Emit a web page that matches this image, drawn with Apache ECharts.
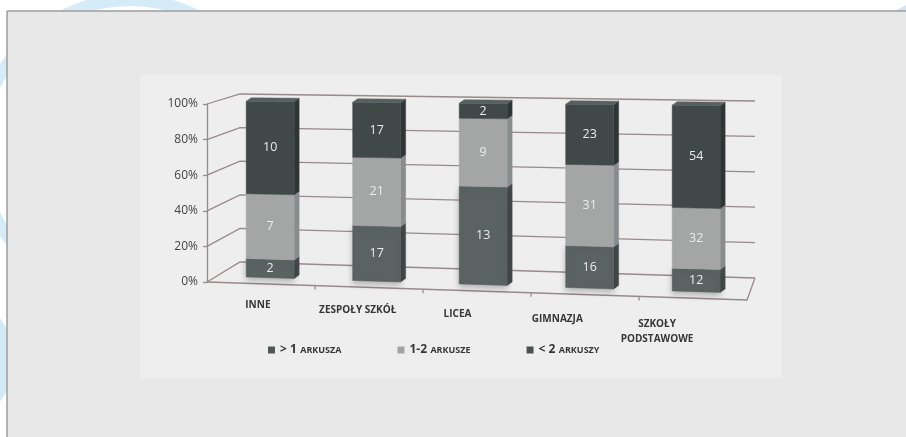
<!DOCTYPE html>
<html>
<head>
<meta charset="utf-8">
<script src="https://cdn.jsdelivr.net/npm/echarts@6/dist/echarts.min.js"></script>
<style>
  html, body { margin: 0; padding: 0; background: #ffffff; }
  #chart { width: 906px; height: 437px; }
</style>
</head>
<body>
<div id="chart"></div>
<script>
// Categories and counts per group (stacked bottom to top)
const categories = ['INNE', 'ZESPOŁY SZKÓŁ', 'LICEA', 'GIMNAZJA', 'SZKOŁY\nPODSTAWOWE'];
const seriesNames = ['> 1 ARKUSZA', '1-2 ARKUSZE', '< 2 ARKUSZY'];
const moreThanOne = [2, 17, 13, 16, 12];
const oneToTwo = [7, 21, 9, 31, 32];
const lessThanTwo = [10, 17, 2, 23, 54];
const yTicks = [0, 20, 40, 60, 80, 100];
const yTickLabels = ['0%', '20%', '40%', '60%', '80%', '100%'];

const counts = [moreThanOne, oneToTwo, lessThanTwo];
const totals = categories.map((_, i) => counts.reduce((s, arr) => s + arr[i], 0));

// Face shades for each stack level: front, side, top
const shades = [
  { front: '#5b6262', side: '#454b4b', top: '#687070', legend: '#4f5656' },
  { front: '#a4a6a6', side: '#898c8c', top: '#b2b4b4', legend: '#a2a4a4' },
  { front: '#414848', side: '#2f3535', top: '#576060', legend: '#4a5151' }
];
const frameColor = '#98898a';
const fontFamily = "'Open Sans', 'DejaVu Sans', sans-serif";

// Perspective mapping: t = position across the plot (0..1),
// f = value fraction (0..1), d = depth (0 = front edge, 1 = back wall)
function project(cs, t, f, d) {
  const bottom = cs.y + cs.height;
  const yF0 = bottom + 18 * t, yF1 = cs.y + 4 * t;
  const xF = cs.x + cs.width * t;
  const yF = yF0 - f * (yF0 - yF1);
  const xB = cs.x + 33 + (cs.width - 25) * t;
  const yB0 = bottom - 20 + 16 * t, yB1 = cs.y - 10 + 7 * t;
  const yB = yB0 - f * (yB0 - yB1);
  return [xF + (xB - xF) * d, yF + (yB - yF) * d];
}
function toTF(cs, p) {
  return [(p[0] - cs.x) / cs.width, (cs.y + cs.height - p[1]) / cs.height];
}
function shift(p, o) { return [p[0] + o[0], p[1] + o[1]]; }

// Build stacked [index, start, end, count] rows in percent
function stackRows(level) {
  return categories.map((_, i) => {
    let start = 0;
    for (let k = 0; k < level; k++) start += counts[k][i] / totals[i] * 100;
    const end = start + counts[level][i] / totals[i] * 100;
    return [i, start, end, counts[level][i]];
  });
}

function makeSegmentRenderer(level) {
  const sh = shades[level];
  const isTop = level === counts.length - 1;
  return function (params, api) {
    const cs = params.coordSys;
    const i = api.value(0);
    const pa = api.coord([i, api.value(1)]);
    const pb = api.coord([i, api.value(2)]);
    const [t, f0] = toTF(cs, pa);
    const f1 = toTF(cs, pb)[1];
    const h = api.size([1, 0])[0] * 0.225 / cs.width;
    const d = 0.3;
    const bl = project(cs, t - h, f0, d), br = project(cs, t + h, f0, d);
    const tr = project(cs, t + h, f1, d), tl = project(cs, t - h, f1, d);
    const off = [5, -3.5];
    const children = [];
    children.push({
      type: 'polygon',
      shape: { points: [br, shift(br, off), shift(tr, off), tr] },
      style: { fill: sh.side, stroke: sh.side, lineWidth: 0.5 }
    });
    const front = {
      type: 'polygon',
      shape: { points: [bl, br, tr, tl] },
      style: { fill: sh.front, stroke: sh.front, lineWidth: 0.5 }
    };
    if (level === 0) {
      front.style.shadowBlur = 6;
      front.style.shadowColor = 'rgba(0,0,0,0.25)';
      front.style.shadowOffsetY = 3;
    }
    children.push(front);
    if (isTop) {
      children.push({
        type: 'polygon',
        shape: { points: [tl, tr, shift(tr, off), shift(tl, off)] },
        style: { fill: sh.top, stroke: sh.top, lineWidth: 0.5 }
      });
    }
    children.push({
      type: 'text',
      style: {
        text: String(api.value(3)),
        x: (bl[0] + br[0] + tr[0] + tl[0]) / 4,
        y: (bl[1] + br[1] + tr[1] + tl[1]) / 4,
        align: 'center', verticalAlign: 'middle',
        fill: '#ececec', fontSize: 12.5, fontFamily: fontFamily
      }
    });
    return { type: 'group', children: children };
  };
}

// Back wall, side-wall gridlines and floor outline
function renderFrame(params, api) {
  const cs = params.coordSys;
  const children = [];
  const line = (pts) => children.push({
    type: 'polyline', shape: { points: pts },
    style: { stroke: frameColor, lineWidth: 1.3, fill: null }
  });
  yTicks.forEach(v => {
    const f = toTF(cs, api.coord([0, v]))[1];
    line([project(cs, 0, f, 0), project(cs, 0, f, 1), project(cs, 1, f, 1)]);
  });
  line([project(cs, 0, 0, 0), project(cs, 1, 0, 0), project(cs, 1, 0, 1)]);
  for (let k = 1; k < categories.length; k++) {
    const p = project(cs, k / categories.length, 0, 0);
    line([p, [p[0], p[1] + 4]]);
  }
  return { type: 'group', children: children };
}

function renderCategoryLabel(params, api) {
  const cs = params.coordSys;
  const i = api.value(0);
  const p = api.coord([i, 0]);
  const t = (p[0] - cs.x) / cs.width;
  return {
    type: 'text',
    style: {
      text: categories[i],
      x: cs.x + 1 + (p[0] - cs.x) * 0.924,
      y: cs.y + cs.height + 13 + 24 * t,
      align: 'center', verticalAlign: 'top', lineHeight: 15,
      fill: '#363636', fontSize: 10, fontWeight: 'bold', fontFamily: fontFamily
    }
  };
}

const chart = echarts.init(document.getElementById('chart'), null, { renderer: 'canvas' });

const option = {
  backgroundColor: '#ffffff',
  animation: false,
  graphic: {
    elements: [
      { type: 'circle', z: -20, silent: true, shape: { cx: 130, cy: 150, r: 150 },
        style: { fill: null, stroke: '#d5ebf7', lineWidth: 12 } },
      { type: 'circle', z: -20, silent: true, shape: { cx: 960, cy: 130, r: 128 },
        style: { fill: null, stroke: '#cfe6f4', lineWidth: 16 } },
      { type: 'circle', z: -20, silent: true, shape: { cx: -55, cy: 360, r: 62 },
        style: { fill: null, stroke: '#d3eaf7', lineWidth: 14 } },
      { type: 'rect', z: -15, silent: true, shape: { x: 7, y: 11, width: 899, height: 426 },
        style: { fill: '#e8e8e8' } },
      { type: 'line', z: -14, silent: true, shape: { x1: 7, y1: 11, x2: 906, y2: 11 },
        style: { stroke: '#9c9c9c', lineWidth: 1.5 } },
      { type: 'line', z: -14, silent: true, shape: { x1: 7, y1: 11, x2: 7, y2: 437 },
        style: { stroke: '#9c9c9c', lineWidth: 1.5 } },
      { type: 'rect', z: -13, silent: true, shape: { x: 140, y: 75, width: 642, height: 303 },
        style: { fill: '#eeeeee' } }
    ]
  },
  legend: {
    data: seriesNames,
    left: 263,
    top: 339,
    itemWidth: 7,
    itemHeight: 7,
    itemGap: 56,
    icon: 'rect',
    formatter: name => name.replace(/^(.*?)\s(ARKUSZ\S*)$/, '{b|$1} {s|$2}'),
    textStyle: {
      color: '#3a3a3a',
      rich: {
        b: { fontSize: 12, fontWeight: 'bold', fontFamily: fontFamily, color: '#363636' },
        s: { fontSize: 9, fontWeight: 'bold', fontFamily: fontFamily, color: '#363636' }
      }
    }
  },
  grid: { left: 207, right: 159, top: 104, bottom: 155 },
  xAxis: { type: 'category', data: categories, show: false },
  yAxis: {
    type: 'value', min: 0, max: 100, interval: 20,
    axisLine: { show: true, lineStyle: { color: frameColor, width: 1.3 } },
    axisTick: { show: true, length: 4, lineStyle: { color: frameColor, width: 1.3 } },
    splitLine: { show: false },
    axisLabel: {
      margin: 9,
      formatter: v => yTickLabels[yTicks.indexOf(v)],
      color: '#444444', fontSize: 12, fontFamily: fontFamily
    }
  },
  series: [
    {
      type: 'custom', name: 'frame', z: 1, clip: false, silent: true,
      renderItem: renderFrame, data: [[0]], encode: { x: 0 }
    },
    ...seriesNames.map((name, level) => ({
      type: 'custom', name: name, z: 3, clip: false,
      itemStyle: { color: shades[level].legend },
      renderItem: makeSegmentRenderer(level),
      data: stackRows(level),
      encode: { x: 0, y: [1, 2] }
    })),
    {
      type: 'custom', name: 'categoryLabels', z: 4, clip: false, silent: true,
      renderItem: renderCategoryLabel,
      data: categories.map((_, i) => [i]),
      encode: { x: 0 }
    }
  ]
};

chart.setOption(option);
</script>
</body>
</html>
